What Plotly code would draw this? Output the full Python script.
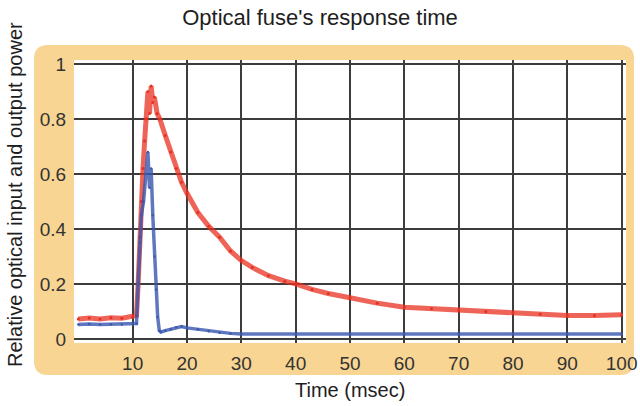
import plotly.graph_objects as go

# Input (red) optical power
red_x = [0, 2, 4, 6, 8, 10, 10.7, 11.0, 11.3, 11.6, 11.9, 12.2, 12.5, 12.8, 13.1, 13.4, 13.7, 14.0,
         14.5, 15, 16, 17, 18, 19, 20, 22, 24, 26, 28, 30, 32, 35, 38, 40, 43, 46, 50, 55, 60,
         65, 70, 75, 80, 85, 90, 95, 100]
red_y = [0.072, 0.076, 0.072, 0.077, 0.075, 0.08, 0.085, 0.2, 0.37, 0.5, 0.62, 0.72, 0.8, 0.9, 0.82, 0.92, 0.86, 0.88,
         0.82, 0.80, 0.74, 0.68, 0.62, 0.57, 0.53, 0.46, 0.41, 0.37, 0.32, 0.285, 0.26, 0.23, 0.21, 0.20, 0.18, 0.165, 0.15, 0.13, 0.115,
         0.11, 0.105, 0.10, 0.095, 0.09, 0.085, 0.085, 0.088]

# Output (blue) optical power
blue_x = [0, 2, 4, 6, 8, 10, 10.7, 11.0, 11.3, 11.6, 12.0, 12.4, 12.8, 13.1, 13.4, 13.7, 14.0, 14.3,
          14.6, 14.9, 15.2, 16, 17, 18, 19, 20, 22, 24, 26, 28, 30, 40, 50, 60, 70, 80, 90, 100]
blue_y = [0.052, 0.054, 0.052, 0.053, 0.052, 0.053, 0.056, 0.2, 0.35, 0.45, 0.5, 0.6, 0.68, 0.55, 0.62, 0.45, 0.3, 0.18,
          0.08, 0.03, 0.025, 0.03, 0.035, 0.042, 0.045, 0.04, 0.035, 0.028, 0.022, 0.02, 0.018, 0.018, 0.018, 0.018, 0.018, 0.018, 0.018, 0.018]

x_ticks = [10, 20, 30, 40, 50, 60, 70, 80, 90, 100]
y_ticks = [0, 0.2, 0.4, 0.6, 0.8, 1]
y_tick_text = ["0", "0.2", "0.4", "0.6", "0.8", "1"]

fig = go.Figure()
fig.add_trace(go.Scatter(x=red_x, y=red_y, mode="lines",
                         line=dict(color="rgba(232,48,32,0.75)", width=5), showlegend=False))
fig.add_trace(go.Scatter(x=red_x, y=red_y, mode="markers",
                         marker=dict(size=3, color="#E8301F"), showlegend=False))
fig.add_trace(go.Scatter(x=blue_x, y=blue_y, mode="lines",
                         line=dict(color="rgba(55,85,175,0.8)", width=3.5), showlegend=False))
fig.add_trace(go.Scatter(x=blue_x, y=blue_y, mode="markers",
                         marker=dict(size=2.5, color="#3A5AB0"), showlegend=False))

L, R, T, B = 74, 14, 60, 63
W, H = 640 - L - R, 406 - T - B
def px(v): return (v - L) / W
def py(v): return (406 - B - v) / H
x0, x1 = px(34), px(634)
y0, y1 = py(375), py(45)
rx, ry = 14 / W, 14 / H
path = (f"M {x0+rx} {y0} L {x1-rx} {y0} Q {x1} {y0} {x1} {y0+ry} L {x1} {y1-ry} Q {x1} {y1} {x1-rx} {y1} "
        f"L {x0+rx} {y1} Q {x0} {y1} {x0} {y1-ry} L {x0} {y0+ry} Q {x0} {y0} {x0+rx} {y0} Z")

font_family = "Liberation Sans, Arial, Helvetica, sans-serif"
fig.update_layout(
    width=640, height=406,
    margin=dict(l=L, r=R, t=T, b=B),
    paper_bgcolor="white", plot_bgcolor="white",
    font=dict(family=font_family, color="#333333", size=18),
    title=dict(text="Optical fuse's response time", x=0.5, xref="container", xanchor="center",
               y=1 - 17 / 406, yref="container", yanchor="middle", font=dict(size=22, color="#1e1e1e")),
    shapes=[dict(type="path", path=path, xref="paper", yref="paper",
                 fillcolor="#F8D592", line=dict(width=0), layer="below"),
            dict(type="rect", xref="paper", yref="paper", x0=0, x1=1, y0=0, y1=1,
                 fillcolor="white", line=dict(width=0), layer="below")],
    xaxis=dict(range=[-0.8, 100.8], tickvals=x_ticks, showgrid=True, gridcolor="#3c3c3c", gridwidth=1.5,
               zeroline=False, showline=False, ticks="outside", ticklen=3, tickcolor="rgba(0,0,0,0)",
               tickfont=dict(size=19, color="#333333"), automargin=False),
    yaxis=dict(range=[-0.015, 1.015], tickvals=y_ticks, ticktext=y_tick_text, showgrid=True,
               gridcolor="#3c3c3c", gridwidth=1.5, zeroline=False, showline=False,
               ticks="outside", ticklen=3, tickcolor="rgba(0,0,0,0)",
               tickfont=dict(size=19, color="#333333"), automargin=False),
    annotations=[
        dict(text="Relative optical input and output power", textangle=-90,
             x=px(15), y=py(195), xref="paper", yref="paper", xanchor="center", yanchor="middle",
             showarrow=False, font=dict(size=20, color="#1e1e1e")),
        dict(text="Time (msec)", x=px(350), y=py(390), xref="paper", yref="paper",
             xanchor="center", yanchor="middle", showarrow=False, font=dict(size=20, color="#1e1e1e")),
    ],
)
fig.write_html("out.html", config={"displayModeBar": False},
               post_script="document.body.style.margin='0';document.body.style.padding='0';")
